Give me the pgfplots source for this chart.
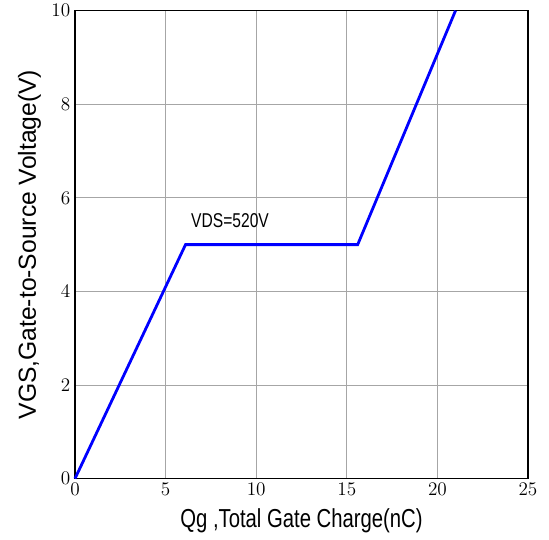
\documentclass[border=0pt]{standalone}
\usepackage{pgfplots}
\pgfplotsset{compat=1.18}
\usepackage{fontspec}
\newfontfamily\narrowfont[FakeStretch=0.78]{Liberation Sans}
\newfontfamily\widefont{Liberation Sans}
\begin{document}
\begin{tikzpicture}
\begin{axis}[
  scale only axis,
  width=339.75pt, height=351pt,
  xmin=0, xmax=25, ymin=0, ymax=10,
  xtick={0,5,...,25}, ytick={0,2,...,10},
  grid=major,
  major grid style={gray!70, line width=0.5pt},
  axis line style={black, line width=1.2pt},
  tick style={draw=none},
  ticklabel style={font=\fontsize{15}{15}\selectfont},
  xlabel={\narrowfont\fontsize{19.5}{19.5}\selectfont Qg ,Total Gate Charge(nC)},
  ylabel={\widefont\fontsize{18.5}{18.5}\selectfont VGS,Gate-to-Source Voltage(V)},
  xlabel style={yshift=-3pt},
  ylabel style={yshift=1pt},
  clip=false,
]
\addplot[blue, line width=2.1pt] coordinates {(0,0) (6.1,5) (15.6,5) (21,10)};
\node[anchor=south west, inner sep=0pt, font=\narrowfont\fontsize{15}{15}\selectfont] at (axis cs:6.4,5.35) {VDS=520V};
\end{axis}
\path[use as bounding box] ([xshift=-56.25pt,yshift=-45.75pt]current axis.south west) rectangle ([xshift=15.75pt,yshift=7.5pt]current axis.north east);
\end{tikzpicture}
\end{document}
